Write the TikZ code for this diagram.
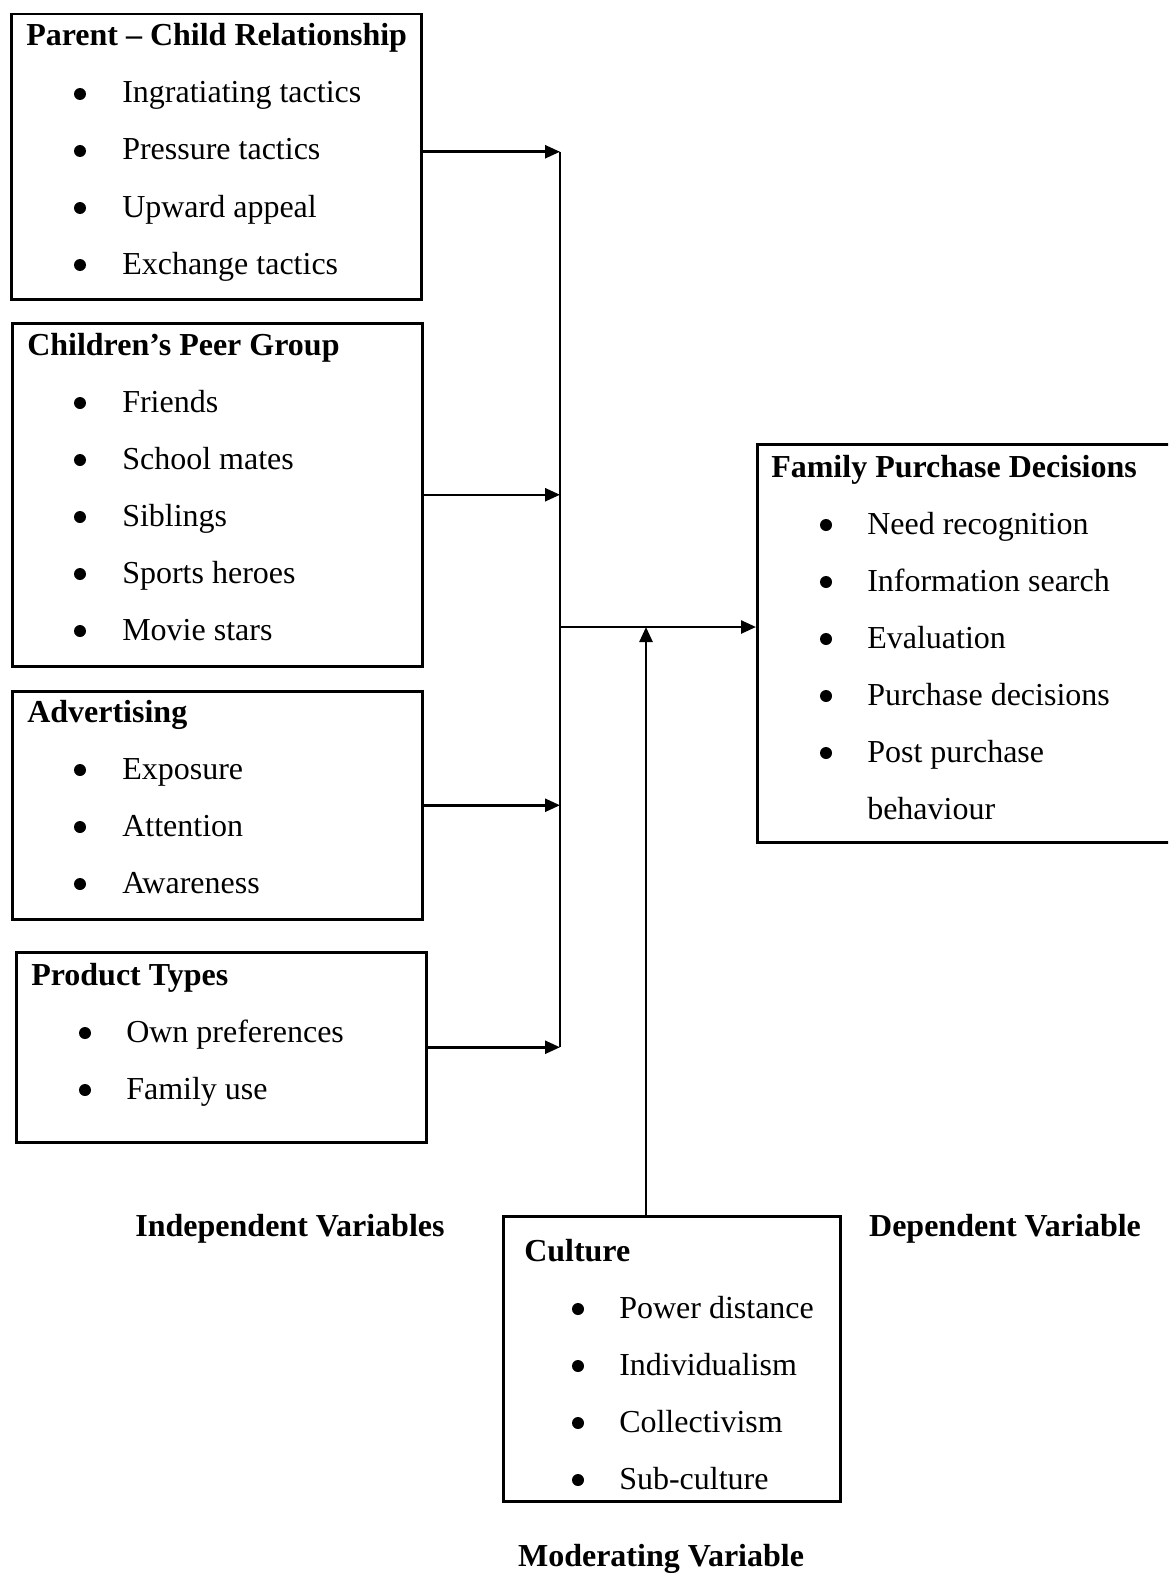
\documentclass[tikz,border=0pt]{standalone}
\usepackage{fontspec}
\setmainfont{Liberation Serif}
\usetikzlibrary{arrows.meta}

\begin{document}
\begin{tikzpicture}[x=1pt,y=-1pt,>={Triangle[length=15pt,width=13pt]},line width=2.5pt,
	box/.style={draw,rectangle,anchor=north west,inner sep=0pt},
	ttl/.style={anchor=base west,inner sep=0pt,font=\fontsize{32}{38}\selectfont\bfseries},
	itm/.style={anchor=base west,inner sep=0pt,font=\fontsize{32}{38}\selectfont},
	bul/.style={circle,fill,inner sep=0pt,minimum size=12pt},
	lbl/.style={anchor=base,inner sep=0pt,font=\fontsize{32}{38}\selectfont\bfseries}]
	\clip (0,0) rectangle (1168,1573);
	% boxes
	\node[box,minimum width=410pt,minimum height=285pt] (parent) at (10,13) {};
	\node[box,minimum width=410pt,minimum height=343pt] (peer) at (11,322) {};
	\node[box,minimum width=410pt,minimum height=228pt] (advert) at (11,690) {};
	\node[box,minimum width=410pt,minimum height=190pt] (product) at (15,951) {};
	\node[box,minimum width=440pt,minimum height=398pt] (family) at (756,443) {};
	\node[box,minimum width=337pt,minimum height=285pt] (culture) at (502,1215) {};
	% titles
	\node[ttl] (parent-t) at (25,46) {Parent \textendash{} Child Relationship};
	\node[ttl] (peer-t) at (26,355) {Children’s Peer Group};
	\node[ttl] (advert-t) at (26,722) {Advertising};
	\node[ttl] (product-t) at (30,985) {Product Types};
	\node[ttl] (family-t) at (770,477) {Family Purchase Decisions};
	\node[ttl] (culture-t) at (523,1261) {Culture};
	% items
	\foreach \t [count=\i] in {Ingratiating tactics,Pressure tactics,Upward appeal,Exchange tactics} {
		\node[bul] (parent-b\i) at (80,{46+57*\i-9}) {};
		\node[itm] (parent-i\i) at (121,{46+57*\i}) {\t};
	}
	\foreach \t [count=\i] in {Friends,School mates,Siblings,Sports heroes,Movie stars} {
		\node[bul] (peer-b\i) at (80,{355+57*\i-9}) {};
		\node[itm] (peer-i\i) at (121,{355+57*\i}) {\t};
	}
	\foreach \t [count=\i] in {Exposure,Attention,Awareness} {
		\node[bul] (advert-b\i) at (80,{722+57*\i-9}) {};
		\node[itm] (advert-i\i) at (121,{722+57*\i}) {\t};
	}
	\foreach \t [count=\i] in {Own preferences,Family use} {
		\node[bul] (product-b\i) at (85,{985+57*\i-9}) {};
		\node[itm] (product-i\i) at (125,{985+57*\i}) {\t};
	}
	\foreach \t [count=\i] in {Need recognition,Information search,Evaluation,Purchase decisions,Post purchase} {
		\node[bul] (family-b\i) at (826,{477+57*\i-9}) {};
		\node[itm] (family-i\i) at (866,{477+57*\i}) {\t};
	}
	\node[itm] (family-i6) at (866,819) {behaviour};
	\foreach \t [count=\i] in {Power distance,Individualism,Collectivism,Sub-culture} {
		\node[bul] (culture-b\i) at (578,{1261+57*\i-9}) {};
		\node[itm] (culture-i\i) at (618,{1261+57*\i}) {\t};
	}
	% variable labels
	\node[lbl] (indep) at (290,1236) {Independent Variables};
	\node[lbl] (dep) at (1005,1236) {Dependent Variable};
	\node[lbl] (moder) at (661,1566) {Moderating Variable};
	% connectors
	\coordinate (spine) at (560,0);
	\coordinate (hub) at (560,627);
	\coordinate (cup) at (646,1215);
	\draw[->] ([yshift=5pt]parent.east) -- ([yshift=5pt]parent.east -| spine);
	\foreach \b in {peer,advert,product} \draw[->] (\b.east) -- (\b.east -| spine);
	\draw ([yshift=5pt]spine |- parent.east) -- (spine |- product.east);
	\draw[->] (hub) -- (hub -| family.west);
	\draw[->] (cup) -- (cup |- hub);
\end{tikzpicture}
\end{document}
